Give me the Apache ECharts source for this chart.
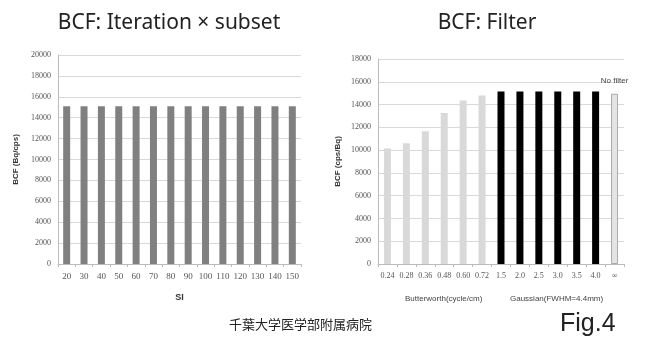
<!DOCTYPE html>
<html>
<head>
<meta charset="utf-8">
<script src="https://cdn.jsdelivr.net/npm/echarts@6/dist/echarts.min.js"></script>
<style>
  html, body { margin: 0; padding: 0; background: #fff; }
  #chart { width: 646px; height: 354px; }
</style>
</head>
<body>
<div id="chart"></div>
<script>
// left panel: iteration x subset
const siCategories = ["20", "30", "40", "50", "60", "70", "80", "90", "100", "110", "120", "130", "140", "150"];
const siBcf = [15100, 15100, 15100, 15100, 15100, 15100, 15100, 15100, 15100, 15100, 15100, 15100, 15100, 15100];

// right panel: filter
const butterworthCats = ["0.24", "0.28", "0.36", "0.48", "0.60", "0.72"];
const butterworthBcf = [10150, 10600, 11650, 13250, 14350, 14800];
const gaussianCats = ["1.5", "2.0", "2.5", "3.0", "3.5", "4.0"];
const gaussianBcf = [15150, 15150, 15150, 15150, 15150, 15150];
const noFilterCats = ["∞"];
const noFilterBcf = [14950];

const labelFont = "Liberation Serif";
const tickColor = "#555";

const filterCategories = butterworthCats.concat(gaussianCats, noFilterCats);
const filterData = [];
butterworthBcf.forEach((v) => {
  filterData.push({ value: v, itemStyle: { color: "#d9d9d9" } });
});
gaussianBcf.forEach((v) => {
  filterData.push({ value: v, itemStyle: { color: "#000" } });
});
noFilterBcf.forEach((v) => {
  filterData.push({
    value: v,
    itemStyle: { color: "#e4e4e4", borderColor: "#aaa", borderWidth: 1 },
    label: {
      show: true,
      position: "top",
      distance: 9,
      formatter: "No filter",
      fontSize: 8,
      color: "#444",
      fontFamily: "Liberation Sans",
    },
  });
});

const chart = echarts.init(document.getElementById("chart"));

const yAxisBase = {
  type: "value",
  min: 0,
  interval: 2000,
  nameLocation: "middle",
  nameRotate: 90,
  nameTextStyle: { fontSize: 8, fontWeight: "bold", color: "#333", fontFamily: "Liberation Sans" },
  axisLine: { show: true, lineStyle: { color: "#bbb" } },
  axisTick: { show: false },
  axisLabel: {
    fontSize: 8,
    color: tickColor,
    fontFamily: labelFont,
    margin: 7,
    formatter: (v) => String(v), // no thousands separator
  },
  splitLine: { lineStyle: { color: "#d9d9d9" } },
};

const xAxisBase = {
  type: "category",
  axisLine: { lineStyle: { color: "#bbb" } },
  axisTick: { show: true, length: 3, lineStyle: { color: "#bbb" } },
  axisLabel: { interval: 0, fontSize: 9, color: tickColor, fontFamily: labelFont, margin: 8 },
};

const titleStyle = { fontSize: 21, fontWeight: "normal", color: "#222", fontFamily: "Noto Sans" };

const option = {
  backgroundColor: "#fff",
  animation: false,
  title: [
    { text: "BCF: Iteration × subset", left: 164, textAlign: "center", top: 8, textStyle: titleStyle },
    { text: "BCF: Filter", left: 482, textAlign: "center", top: 8, textStyle: titleStyle },
  ],
  grid: [
    { left: 58, right: 345, top: 55, bottom: 90 },
    { left: 378, right: 22, top: 59, bottom: 90 },
  ],
  xAxis: [
    Object.assign({}, xAxisBase, {
      gridIndex: 0,
      data: siCategories,
      name: "SI",
      nameLocation: "middle",
      nameGap: 29,
      nameTextStyle: { fontSize: 9, fontWeight: "bold", color: "#333", fontFamily: "Liberation Sans" },
    }),
    Object.assign({}, xAxisBase, {
      gridIndex: 1,
      data: filterCategories,
      axisLabel: { interval: 0, fontSize: 8, color: tickColor, fontFamily: labelFont, margin: 8 },
    }),
  ],
  yAxis: [
    Object.assign({}, yAxisBase, { gridIndex: 0, max: 20000, name: "BCF (Bq/cps)", nameGap: 38 }),
    Object.assign({}, yAxisBase, { gridIndex: 1, max: 18000, name: "BCF (cps/Bq)", nameGap: 36 }),
  ],
  series: [
    {
      type: "bar",
      xAxisIndex: 0,
      yAxisIndex: 0,
      data: siBcf,
      barWidth: 7,
      itemStyle: { color: "#808080" },
    },
    {
      type: "bar",
      xAxisIndex: 1,
      yAxisIndex: 1,
      data: filterData,
      barWidth: 7,
    },
  ],
  graphic: [
    {
      type: "text",
      left: 405,
      top: 295,
      style: { text: "Butterworth(cycle/cm)", fontSize: 8, fill: "#444", fontFamily: "Liberation Sans" },
    },
    {
      type: "text",
      left: 510,
      top: 295,
      style: { text: "Gaussian(FWHM=4.4mm)", fontSize: 8, fill: "#444", fontFamily: "Liberation Sans" },
    },
    {
      type: "text",
      left: 229,
      top: 318,
      style: { text: "千葉大学医学部附属病院", fontSize: 13, fill: "#222", fontFamily: "Noto Sans CJK JP" },
    },
    {
      type: "text",
      left: 560,
      top: 312,
      style: { text: "Fig.4", fontSize: 25, fill: "#222", fontFamily: "Liberation Sans" },
    },
  ],
};

chart.setOption(option);
</script>
</body>
</html>
